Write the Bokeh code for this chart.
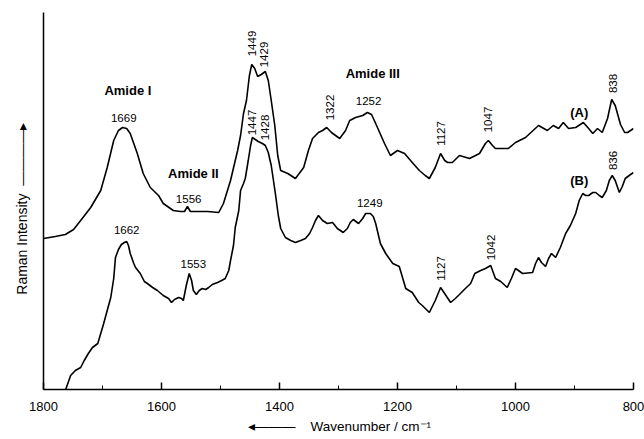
import math
from bokeh.plotting import figure
from bokeh.models import Range1d, FixedTicker
from bokeh.core.properties import value
from bokeh.embed import file_html
from bokeh.resources import INLINE

# Spectrum (A)
wn_a = [1800,1780,1763,1749,1737,1720,1703,1692,1681,1673,1666,1659,1653,1641,1631,1619,1605,1597,1580,1568,
        1561,1556,1551,1534,1522,1503,1495,1483,1471,1466,1461,1456,1451,1447,1442,1437,1431,1424,1419,1414,
        1408,1403,1398,1386,1373,1359,1351,1344,1334,1327,1320,1312,1298,1288,1281,1271,1259,1251,1244,1237,
        1222,1212,1200,1188,1175,1163,1153,1146,1136,1127,1120,1115,1107,1095,1078,1061,1051,1046,1039,1034,
        1012,1000,983,961,946,936,927,919,910,898,885,876,869,861,853,844,837,831,822,815,810,800]
int_a = [152,154,156,161,170,183,200,223,250,260,263,262,257,237,217,203,195,187,180,179,
         179,184,179,179,179,178,187,210,240,255,277,290,315,326,322,314,316,319,310,290,
         265,235,220,217,212,223,240,252,258,260,263,258,252,260,270,273,275,278,276,267,
         247,235,240,237,228,220,215,212,223,237,230,228,228,235,232,237,247,250,245,242,
         242,248,253,265,260,265,262,268,262,263,268,262,257,262,258,272,291,285,266,258,258,262]

# Spectrum (B)
wn_b = [1763,1754,1746,1737,1731,1724,1717,1708,1703,1698,1692,1686,1681,1678,1673,1668,1663,1659,1656,1653,
        1647,1644,1636,1629,1624,1615,1607,1597,1588,1583,1578,1571,1566,1563,1558,1553,1549,1546,1541,1536,
        1531,1525,1520,1514,1505,1498,1492,1486,1483,1478,1475,1469,1466,1461,1458,1453,1449,1446,1441,1436,
        1429,1424,1419,1414,1407,1402,1398,1390,1381,1373,1364,1356,1349,1344,1339,1334,1327,1319,1310,1302,
        1292,1285,1280,1275,1266,1259,1254,1246,1241,1237,1229,1220,1208,1197,1186,1175,1164,1158,1146,1136,
        1127,1119,1110,1102,1095,1085,1076,1069,1059,1051,1042,1034,1025,1014,1007,1000,995,988,971,966,
        961,956,949,944,939,932,924,915,907,898,892,886,881,876,869,864,858,853,846,841,
        836,831,824,819,814,805,800]
int_b = [0,15,20,23,30,37,43,47,57,67,80,93,112,133,141,146,148,149,145,137,
         127,123,117,109,107,103,100,95,92,88,91,93,92,90,105,117,110,100,96,100,
         102,101,103,106,108,110,112,120,130,145,163,180,200,207,212,230,245,253,251,249,
         247,245,238,225,197,175,162,153,150,148,150,152,157,163,170,175,170,167,168,162,
         158,162,168,171,167,172,177,177,174,167,147,137,127,124,102,98,88,85,78,90,
         103,96,88,92,96,102,107,117,120,122,125,112,109,103,112,122,120,117,118,127,
         133,128,124,132,137,133,143,157,165,177,190,197,195,195,198,198,195,193,200,210,
         215,210,198,204,212,216,218]

# Peak annotations
flat_text = ["1669", "1556", "1252", "1249", "1662", "1553"]
flat_x = [1664, 1554, 1249, 1247, 1659, 1546]
flat_y = [273, 192, 290, 188, 161, 127]

vert_text = ["1449", "1429", "1447", "1428", "1322", "1127", "1047", "838", "836", "1127", "1042"]
vert_x = [1446, 1427, 1446, 1425, 1315, 1127, 1046, 834, 834, 1127, 1042]
vert_y = [347, 336, 268, 263, 283, 257, 271, 307, 230, 122, 143]

bold_text = ["Amide I", "Amide II", "Amide III", "(A)", "(B)"]
bold_x = [1657, 1546, 1242, 892, 892]
bold_y = [300, 217, 317, 278, 210]

x_ticks = [1800, 1600, 1400, 1200, 1000, 800]
x_minor = [1700, 1500, 1300, 1100, 900]

NB = "\u00a0"
x_title = "\u25c2" + "\u2014" * 3 + NB * 4 + "Wavenumber / cm\u207b\u00b9"
y_title = "Raman Intensity" + NB * 2 + "\u2014" * 4 + "\u25b8" + NB * 4

FONT = "Liberation Sans"

p = figure(width=644, height=439, output_backend="svg", toolbar_location=None,
           x_range=Range1d(1800, 800), y_range=Range1d(1, 378),
           min_border_left=43, min_border_right=11, min_border_top=12, min_border_bottom=50)
p.outline_line_color = None
p.xgrid.visible = False
p.ygrid.visible = False
p.background_fill_color = "white"
p.border_fill_color = "white"

xa = p.xaxis[0]
xa.ticker = FixedTicker(ticks=x_ticks, minor_ticks=x_minor)
xa.major_tick_in = 7
xa.major_tick_out = 0
xa.minor_tick_in = 4
xa.minor_tick_out = 0
xa.axis_line_width = 1.5
xa.major_tick_line_width = 1.5
xa.major_label_text_font = FONT
xa.major_label_text_font_size = "13px"
xa.major_label_text_color = "black"
xa.major_label_standoff = 12
xa.axis_line_color = "black"
xa.axis_label = x_title
xa.axis_label_text_font = FONT
xa.axis_label_text_font_size = "13.5px"
xa.axis_label_text_font_style = "normal"
xa.axis_label_text_color = "black"
xa.axis_label_standoff = 5

ya = p.yaxis[0]
ya.ticker = FixedTicker(ticks=[])
ya.major_tick_in = 0
ya.major_tick_out = 0
ya.minor_tick_in = 0
ya.minor_tick_out = 0
ya.axis_line_width = 1.5
ya.axis_line_color = "black"
ya.major_label_text_font_size = "0px"
ya.axis_label = y_title
ya.axis_label_text_font = FONT
ya.axis_label_text_font_size = "14px"
ya.axis_label_text_font_style = "normal"
ya.axis_label_text_color = "black"
ya.axis_label_standoff = 14

p.line(wn_a, int_a, line_color="black", line_width=1.6)
p.line(wn_b, int_b, line_color="black", line_width=1.6)

p.text(x=flat_x, y=flat_y, text=flat_text, text_font=value(FONT), text_font_size="11.5px",
       text_align="center", text_baseline="middle", text_color="black")
p.text(x=vert_x, y=vert_y, text=vert_text, text_font=value(FONT), text_font_size="11.5px",
       text_align="center", text_baseline="middle", angle=math.pi / 2, text_color="black")
p.text(x=bold_x, y=bold_y, text=bold_text, text_font=value(FONT), text_font_size="13px",
       text_font_style="bold", text_align="center", text_baseline="middle", text_color="black")

open("out.html", "w").write(file_html(p, INLINE))
